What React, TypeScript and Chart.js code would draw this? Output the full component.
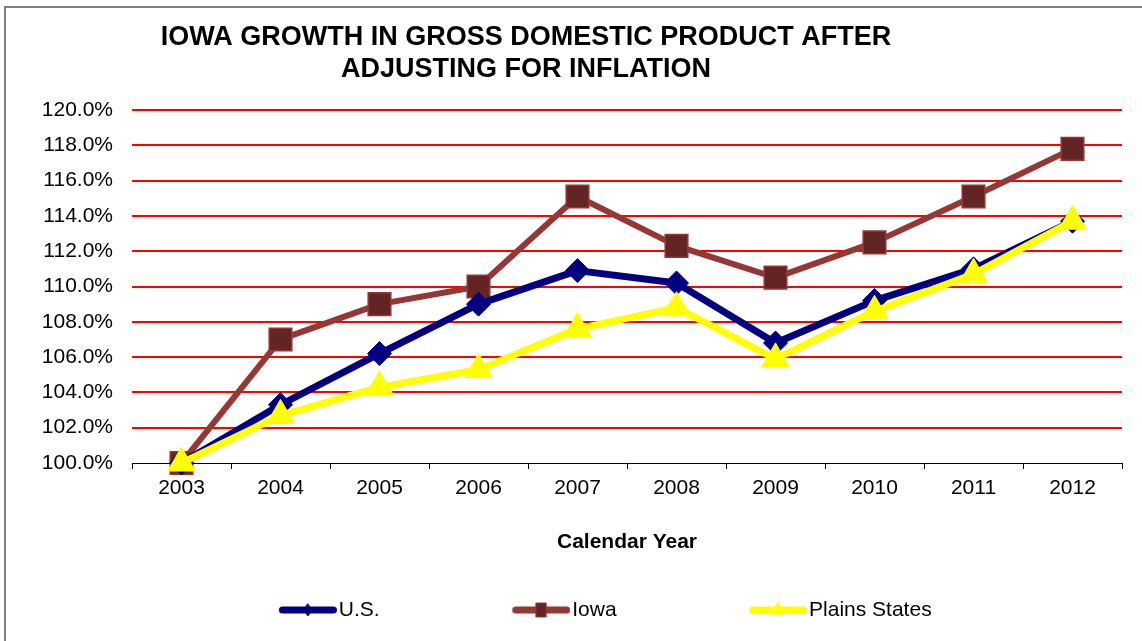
import React, { useEffect, useRef } from 'react';
import { Chart, registerables } from 'chart.js';

Chart.register(...registerables);

// ---- data ----
const years = ['2003', '2004', '2005', '2006', '2007', '2008', '2009', '2010', '2011', '2012'];
const usValues = [100.0, 103.3, 106.2, 109.0, 110.9, 110.2, 106.8, 109.2, 111.0, 113.7];
const iowaValues = [100.0, 107.0, 109.0, 110.0, 115.1, 112.3, 110.5, 112.5, 115.1, 117.8];
const plainsValues = [100.0, 102.7, 104.3, 105.3, 107.6, 108.8, 105.9, 108.6, 110.7, 113.7];
const seriesNames = ['U.S.', 'Iowa', 'Plains States'];
const titleLines = ['IOWA GROWTH IN GROSS DOMESTIC PRODUCT AFTER', 'ADJUSTING FOR INFLATION'];
const xAxisTitle = 'Calendar Year';
const yMin = 100;
const yMax = 120;
const yStep = 2;

// ---- style ----
const FONT = '"Liberation Sans", Arial, Helvetica, sans-serif';
const NAVY = '#000080';
const BROWN = '#953735';
const BROWN_DARK = '#632523';
const YELLOW = '#FFFF00';
const LEG_BOX = 138;

function legendGlyph(kind: string, line: string, fill: string, stroke: string) {
  const w = LEG_BOX + 17;
  const h = 24;
  const c = document.createElement('canvas');
  c.width = w;
  c.height = h;
  const g = c.getContext('2d') as CanvasRenderingContext2D;
  const cy = h / 2;
  const x1 = w - 3.5;
  const x0 = w - 58 + 3.5;
  const mx = (x0 + x1) / 2;
  g.strokeStyle = line;
  g.lineWidth = 7;
  g.lineCap = 'round';
  g.beginPath();
  g.moveTo(x0, cy);
  g.lineTo(x1, cy);
  g.stroke();
  g.fillStyle = fill;
  g.strokeStyle = stroke;
  g.lineWidth = 1;
  g.beginPath();
  if (kind === 'diamond') {
    g.moveTo(mx, cy - 6);
    g.lineTo(mx + 4, cy);
    g.lineTo(mx, cy + 6);
    g.lineTo(mx - 4, cy);
  } else if (kind === 'square') {
    g.rect(mx - 5, cy - 7, 10, 14);
  } else {
    g.moveTo(mx, cy - 8);
    g.lineTo(mx + 6, cy + 4);
    g.lineTo(mx - 6, cy + 4);
  }
  g.closePath();
  g.fill();
  g.stroke();
  return c;
}

const titlePlugin = {
  id: 'fixedTitle',
  afterDraw(chart: any) {
    const ctx = chart.ctx as CanvasRenderingContext2D;
    ctx.save();
    ctx.font = `bold 27px ${FONT}`;
    ctx.fillStyle = '#000';
    ctx.textAlign = 'center';
    ctx.textBaseline = 'middle';
    titleLines.forEach((line, i) => {
      ctx.fillText(line, 526, 38 + i * 32);
    });
    ctx.restore();
  },
};

export default function App() {
  const ref = useRef<HTMLCanvasElement>(null);

  useEffect(() => {
    const canvas = ref.current;
    if (!canvas) return;
    Chart.defaults.font.family = FONT;
    const glyphs = [
      legendGlyph('diamond', NAVY, NAVY, NAVY),
      legendGlyph('square', BROWN, BROWN_DARK, BROWN),
      legendGlyph('triangle', YELLOW, YELLOW, YELLOW),
    ];
    const chart = new Chart(canvas, {
      type: 'line',
      data: {
        labels: years,
        datasets: [
          {
            label: seriesNames[0],
            data: usValues,
            borderColor: NAVY,
            backgroundColor: NAVY,
            borderWidth: 7,
            pointStyle: 'rectRot',
            pointRadius: 12,
            pointBackgroundColor: NAVY,
            pointBorderColor: NAVY,
            pointBorderWidth: 1,
            borderJoinStyle: 'round',
            borderCapStyle: 'round',
            tension: 0,
            clip: false,
            order: 2,
          },
          {
            label: seriesNames[1],
            data: iowaValues,
            borderColor: BROWN,
            backgroundColor: BROWN_DARK,
            borderWidth: 6,
            pointStyle: 'rect',
            pointRadius: 16,
            pointBackgroundColor: BROWN_DARK,
            pointBorderColor: BROWN,
            pointBorderWidth: 1.5,
            borderJoinStyle: 'round',
            borderCapStyle: 'round',
            tension: 0,
            clip: false,
            order: 3,
          },
          {
            label: seriesNames[2],
            data: plainsValues,
            borderColor: YELLOW,
            backgroundColor: YELLOW,
            borderWidth: 7,
            pointStyle: 'triangle',
            pointRadius: 16,
            pointBackgroundColor: YELLOW,
            pointBorderColor: YELLOW,
            pointBorderWidth: 1,
            borderJoinStyle: 'round',
            borderCapStyle: 'round',
            tension: 0,
            clip: false,
            order: 1,
          },
        ] as any,
      },
      options: {
        responsive: false,
        animation: false,
        events: [],
        layout: { padding: { top: 110, left: 0, right: 20, bottom: 10.5 } },
        plugins: {
          title: { display: false },
          tooltip: { enabled: false },
          legend: {
            display: true,
            position: 'bottom',
            align: 'center',
            labels: {
              usePointStyle: true,
              pointStyleWidth: LEG_BOX,
              padding: 44,
              color: '#000',
              font: { size: 21, family: FONT },
              generateLabels: (ch: any) =>
                ch.data.datasets.map((ds: any, i: number) => ({
                  text: ds.label,
                  datasetIndex: i,
                  pointStyle: glyphs[i],
                  fillStyle: 'rgba(0,0,0,0)',
                  strokeStyle: 'rgba(0,0,0,0)',
                  lineWidth: 0,
                  hidden: false,
                  fontColor: '#000',
                })),
            },
          },
        },
        scales: {
          x: {
            type: 'category',
            offset: true,
            afterFit: (s: any) => {
              s.height = 92.5;
            },
            grid: {
              display: true,
              drawOnChartArea: false,
              drawTicks: true,
              tickLength: 6,
              color: '#000',
              lineWidth: 1,
              offset: true,
            },
            border: { display: true, color: '#000', width: 1 },
            ticks: {
              color: '#000',
              font: { size: 21, family: FONT },
              padding: 7,
              maxRotation: 0,
              autoSkip: false,
            },
            title: {
              display: true,
              text: xAxisTitle,
              color: '#000',
              font: { size: 21, weight: 'bold', family: FONT },
              padding: { top: 0, bottom: 1 },
            },
          },
          y: {
            min: yMin,
            max: yMax,
            afterFit: (s: any) => {
              s.width = 132;
            },
            grid: {
              color: (c: any) => (c.tick && c.tick.value === yMin ? 'rgba(0,0,0,0)' : '#FF0000'),
              lineWidth: 2,
              drawTicks: false,
            },
            border: { display: false },
            ticks: {
              stepSize: yStep,
              color: '#000',
              padding: 19,
              font: { size: 21, family: FONT },
              callback: (v: any) => Number(v).toFixed(1) + '%',
            },
          },
        },
      } as any,
      plugins: [titlePlugin],
    });
    return () => chart.destroy();
  }, []);

  return (
    <div
      style={{
        position: 'fixed',
        left: 0,
        top: 0,
        width: 1142,
        height: 641,
        overflow: 'hidden',
        background: '#fff',
      }}
    >
      <canvas ref={ref} width={1142} height={641} style={{ display: 'block', width: 1142, height: 641 }} />
      <div
        style={{
          position: 'absolute',
          left: 4,
          top: 6,
          width: 2000,
          height: 2000,
          borderLeft: '2px solid #808080',
          borderTop: '2px solid #808080',
          pointerEvents: 'none',
        }}
      />
    </div>
  );
}
